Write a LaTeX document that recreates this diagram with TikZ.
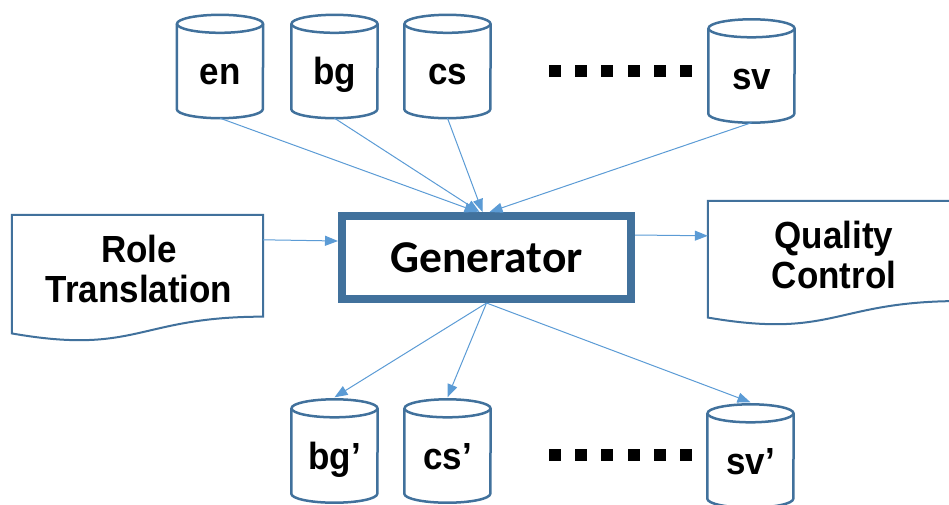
\documentclass[tikz,border=0pt]{standalone}
\usepackage{fontspec}
\setmainfont{Liberation Sans}
\newfontfamily\genfont{Carlito}
\usetikzlibrary{calc,arrows.meta}
\definecolor{edgeblue}{HTML}{41719C}
\definecolor{arrowblue}{HTML}{5B9BD5}

% slightly taller lettering
\newcommand\tall[1]{\scalebox{1}[1.08]{#1}}

% outline of a database cylinder around a named frame node
\newcommand\drawdb[1]{%
  \draw[dbline] ($(#1.north)+(0,9)$) ellipse[x radius=43pt, y radius=9pt];
  \draw[dbline] ($(#1.north west)+(0,9)$) -- ($(#1.south west)+(0,-9)$)
    arc[start angle=180, end angle=360, x radius=43pt, y radius=9pt]
    -- ($(#1.north east)+(0,9)$);}

% outline of a flowchart document shape around a named frame node of height #2
\newcommand\drawdoc[2]{%
  \draw[docline] (#1.north west) -- (#1.north east)
    -- ($(#1.north east)+(0,0.802*#2)$)
    .. controls ($(#1.north)+(0,0.802*#2)$) and ($(#1.north)+(0,1.1075*#2)$) ..
    ($(#1.north west)+(0,0.934*#2)$) -- cycle;}

\tikzset{
  dbnode/.style={inner sep=0pt, minimum width=86pt, minimum height=103pt,
    text height=36pt, text depth=0pt,
    font=\bfseries\fontsize{35}{40}\selectfont},
  dbline/.style={draw=edgeblue, line width=2.5pt},
  docline/.style={draw=edgeblue, line width=2pt},
  docframe/.style={inner sep=0pt},
  doctext/.style={align=center, inner sep=0pt,
    font=\bfseries\fontsize{35}{40}\selectfont},
  genbox/.style={draw=edgeblue, line width=8pt, minimum width=289pt,
    minimum height=83pt, inner sep=0pt,
    font=\genfont\bfseries\fontsize{45.5}{54}\selectfont},
  flow/.style={draw=arrowblue, line width=1pt,
    -{Triangle[length=13pt,width=10pt]}},
}

\begin{document}
\begin{tikzpicture}[x=1pt, y=-1pt]
  \useasboundingbox (0,0) rectangle (949,504);

  % source corpora
  \node[dbnode] (en) at (220,66.5) {\tall{en}};
  \node[dbnode] (bg) at (334.5,66.5) {\tall{bg}};
  \node[dbnode] (cs) at (447.5,66.5) {\tall{cs}};
  \node[dbnode] (sv) at (751.5,71) {\tall{sv}};
  \foreach \n in {en,bg,cs,sv} {\drawdb{\n}}

  % generated corpora
  \node[dbnode] (bg2) at (334.5,451) {\tall{bg’}};
  \node[dbnode] (cs2) at (447.5,451) {\tall{cs’}};
  \node[dbnode] (sv2) at (750.5,456) {\tall{sv’}};
  \foreach \n in {bg2,cs2,sv2} {\drawdb{\n}}

  % ellipsis squares
  \foreach \i in {0,...,5} {
    \fill (549+26.2*\i,65) rectangle ++(12,12);
    \fill (549+26.2*\i,449) rectangle ++(12,12);
  }

  % central generator
  \node[genbox] (gen) at (486.5,257.5) {Generator};

  % document shapes
  \node[docframe, minimum width=251pt, minimum height=127pt] (role) at (137.5,278.5) {};
  \drawdoc{role}{127}
  \node[doctext] (roletext) at (139,268.5) {\tall{Role}\\\tall{Translation}};

  \node[docframe, minimum width=252pt, minimum height=125pt] (qc) at (834,263.5) {};
  \drawdoc{qc}{125}
  \node[doctext] (qctext) at (834,255) {\tall{Quality}\\\tall{Control}};

  % connectors
  \draw[flow] (en.south) -- ([xshift=-9pt]gen.north);
  \draw[flow] (bg.south) -- ([xshift=-7pt]gen.north);
  \draw[flow] (cs.south) -- ([xshift=-4pt]gen.north);
  \draw[flow] (sv.south) -- ([xshift=3pt]gen.north);

  \draw[flow] ($(role.north east)+(0,25)$) -- ([yshift=16.5pt]gen.west);
  \draw[flow] ([yshift=22.5pt]gen.east) -- ($(qc.north west)+(0,35)$);

  \draw[flow] (gen.south) -- ([yshift=2pt]bg2.north);
  \draw[flow] (gen.south) -- ([yshift=2pt]cs2.north);
  \draw[flow] (gen.south) -- ([yshift=2pt]sv2.north);
\end{tikzpicture}
\end{document}
